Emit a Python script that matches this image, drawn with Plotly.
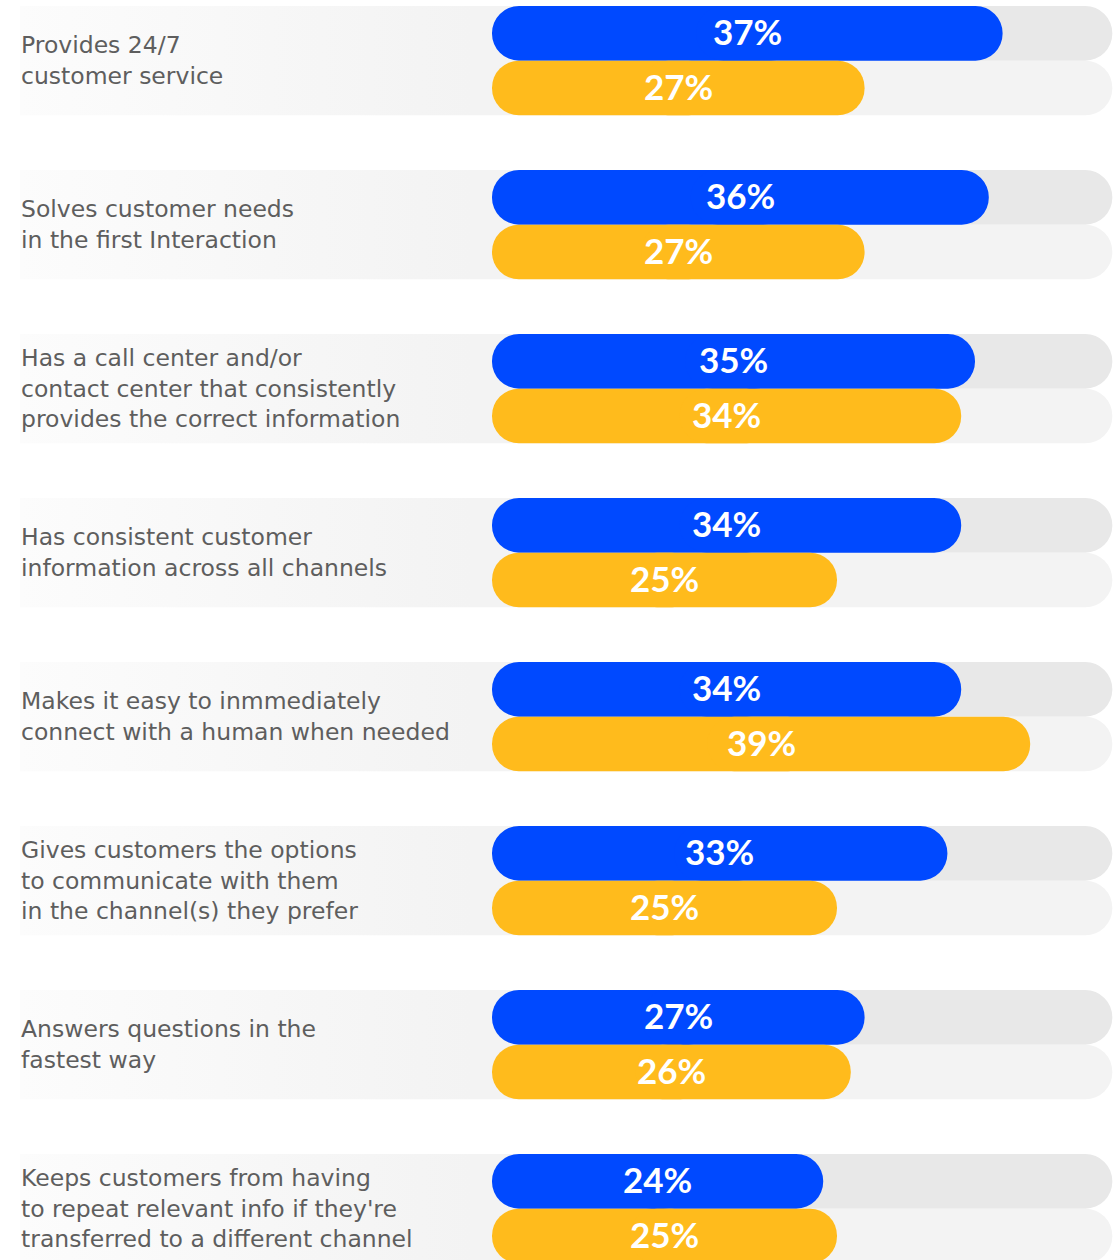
import plotly.graph_objects as go

# Survey statements and the two compared shares (percent)
labels = [
    "Provides 24/7<br>customer service",
    "Solves customer needs<br>in the first Interaction",
    "Has a call center and/or<br>contact center that consistently<br>provides the correct information",
    "Has consistent customer<br>information across all channels",
    "Makes it easy to inmmediately<br>connect with a human when needed",
    "Gives customers the options<br>to communicate with them<br>in the channel(s) they prefer",
    "Answers questions in the<br>fastest way",
    "Keeps customers from having<br>to repeat relevant info if they're<br>transferred to a different channel",
]
blue_values = [37, 36, 35, 34, 34, 33, 27, 24]
yellow_values = [27, 27, 34, 25, 39, 25, 26, 25]

# Styling
BLUE = "#0049FF"
YELLOW = "#FFBB1C"
TRACK_BLUE = "#E8E8E8"
TRACK_YELLOW = "#F3F3F3"
LABEL_COLOR = "#5E5E5E"
LABEL_FONT = "DejaVu Sans"
VALUE_FONT = "Lato"

W, H = 1113, 1260
ZERO_PX = 492            # pixel column where bars begin
PX_PER_PCT = 13.8        # horizontal scale
ROW_PX = 164 / 3         # one row unit in pixels (group pitch = 3 rows)

x_range = [-ZERO_PX / PX_PER_PCT, (W - ZERO_PX) / PX_PER_PCT]
y_top = -0.5 - 6 / ROW_PX
y_range = [y_top + H / ROW_PX, y_top]

TRACK_START = 3.0
TRACK_END = x_range[1] - 0.05
BAND_X0 = (20 - ZERO_PX) / PX_PER_PCT
BAND_X1 = 10.0

n = len(labels)
blue_rows = [3 * i for i in range(n)]
yellow_rows = [3 * i + 1 for i in range(n)]

fig = go.Figure()

# Soft background band behind each statement (base axes, drawn below bars)
for i in range(n):
    top, bot = 3 * i - 0.5, 3 * i + 1.5
    fig.add_trace(go.Scatter(
        x=[BAND_X0, BAND_X1, BAND_X1, BAND_X0, BAND_X0],
        y=[top, top, bot, bot, top],
        mode="none", fill="toself",
        fillgradient=dict(type="horizontal",
                          colorscale=[[0, "#FCFCFC"], [1, "#F3F3F3"]],
                          start=BAND_X0, stop=-1.5),
        hoverinfo="skip", showlegend=False,
    ))

# Grey tracks
for rows, color in [(blue_rows, TRACK_BLUE), (yellow_rows, TRACK_YELLOW)]:
    fig.add_trace(go.Bar(
        orientation="h", y=rows,
        x=[TRACK_END - TRACK_START] * n, base=[TRACK_START] * n,
        width=1, marker=dict(color=color, cornerradius="50%", line_width=0),
        xaxis="x2", yaxis="y2", hoverinfo="skip", showlegend=False,
    ))

# Pill bars: two overlapping halves, each rounded on its outer end
for name, rows, vals, color in [("Group 1", blue_rows, blue_values, BLUE),
                                ("Group 2", yellow_rows, yellow_values, YELLOW)]:
    fig.add_trace(go.Bar(
        orientation="h", y=rows, name=name,
        x=[-0.6 * v for v in vals], base=[0.6 * v for v in vals],
        width=1, marker=dict(color=color, cornerradius="50%", line_width=0),
        xaxis="x2", yaxis="y2", hoverinfo="skip", showlegend=False,
    ))
    fig.add_trace(go.Bar(
        orientation="h", y=rows, name=name,
        x=[0.6 * v for v in vals], base=[0.4 * v for v in vals],
        width=1, marker=dict(color=color, cornerradius="50%", line_width=0),
        xaxis="x2", yaxis="y2", hoverinfo="skip", showlegend=False,
    ))
    # value label centred in each bar
    for v, r in zip(vals, rows):
        fig.add_annotation(
            text=f"{v}%", xref="x2", yref="y2", x=v / 2, y=r,
            xanchor="center", yanchor="middle", yshift=2, showarrow=False,
            font=dict(family=VALUE_FONT, size=35, color="white", weight=700),
        )

# Statement labels on the left
for i, lab in enumerate(labels):
    fig.add_annotation(
        text=lab, xref="paper", x=19 / W, yref="y", y=3 * i + 0.5,
        xanchor="left", yanchor="middle", align="left", showarrow=False,
        font=dict(family=LABEL_FONT, size=23.5, color=LABEL_COLOR),
    )

axis_common = dict(visible=False, fixedrange=True)
fig.update_layout(
    width=W, height=H, autosize=False,
    margin=dict(l=0, r=0, t=0, b=0, pad=0),
    paper_bgcolor="white", plot_bgcolor="white",
    barmode="overlay", showlegend=False,
    xaxis=dict(range=x_range, **axis_common),
    yaxis=dict(range=y_range, **axis_common),
    xaxis2=dict(range=x_range, overlaying="x", **axis_common),
    yaxis2=dict(range=y_range, overlaying="y", **axis_common),
)

fig.write_html("out.html")
